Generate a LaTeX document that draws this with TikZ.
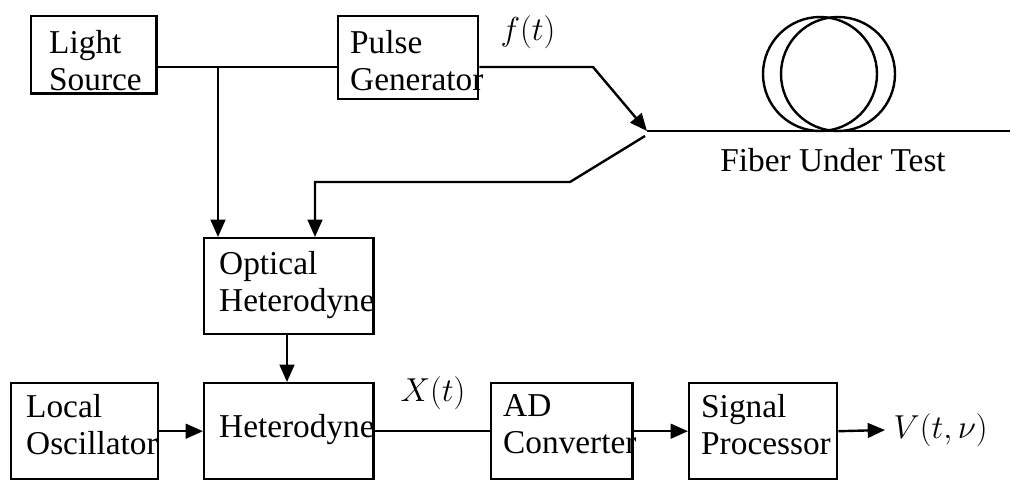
\documentclass[tikz,border=0pt]{standalone}
\usepackage{fontspec}
\setmainfont{Liberation Serif}
\usetikzlibrary{arrows.meta}
\begin{document}
\begin{tikzpicture}[x=0.75pt,y=-0.75pt,line width=1.8pt,
  box/.style={draw,align=left,font=\fontsize{25}{28}\selectfont},
  arr/.style={-{Triangle[length=13pt,width=11pt]}},
  lbl/.style={font=\fontsize{27}{30}\selectfont}]
\useasboundingbox (0,0) rectangle (1024,493);
\node[box,minimum width=94pt,minimum height=58pt,anchor=north west,inner sep=12pt] (ls) at (30,15) {};
\node[anchor=north west,box,draw=none,inner sep=0pt] at (48,29) {Light\\Source};
\node[box,minimum width=105pt,minimum height=62pt,anchor=north west] (pg) at (337,15) {};
\node[anchor=north west,box,draw=none,inner sep=0pt] at (349,29) {Pulse\\Generator};
\node[box,minimum width=127pt,minimum height=72pt,anchor=north west] (oh) at (203,237) {};
\node[anchor=north west,box,draw=none,inner sep=0pt] at (218,250) {Optical\\Heterodyne};
\node[box,minimum width=127pt,minimum height=72pt,anchor=north west] (het) at (203,382) {};
\node[anchor=west,box,draw=none,inner sep=0pt] at (218,430) {Heterodyne};
\node[box,minimum width=110pt,minimum height=72pt,anchor=north west] (lo) at (10,382) {};
\node[anchor=north west,box,draw=none,inner sep=0pt] at (25,393) {Local\\Oscillator};
\node[box,minimum width=106pt,minimum height=72pt,anchor=north west] (ad) at (490,382) {};
\node[anchor=north west,box,draw=none,inner sep=0pt] at (502,393) {AD\\Converter};
\node[box,minimum width=111pt,minimum height=72pt,anchor=north west] (sp) at (688,382) {};
\node[anchor=north west,box,draw=none,inner sep=0pt] at (700,393) {Signal\\Processor};
\coordinate (j) at (218,67);
\coordinate (b1) at (593,67);
\coordinate (fin) at (647,131);
\coordinate (fend) at (1010,131);
\coordinate (r1) at (570,182);
\coordinate (r2) at (315,182);
\coordinate (vout) at (885,430);
\draw (ls.east|-j) -- (pg.west|-j);
\draw[arr] (j) -- (218,237);
\draw[arr] (pg.east|-j) -- (b1) -- (fin);
\draw (fin) -- (fend);
\draw[arr] (645,136) -- (r1) -- (r2) -- (315,237);
\draw (820,74) circle (57);
\draw (838,74) circle (57);
\draw[arr] (287,333) -- (287,382);
\draw[arr] (lo.east|-het) -- (het.west);
\draw (het.east) -- (ad.west);
\draw[arr] (ad.east) -- (sp.west);
\draw[arr] (sp.east) -- (vout);
\node[lbl] (ft) at (528,32) {$f(t)$};
\node[box,draw=none] (fut) at (833,160) {Fiber Under Test};
\node[lbl] (xt) at (433,393) {$X(t)$};
\node[lbl,anchor=west] (vt) at (888,430) {$V(t,\nu)$};
\end{tikzpicture}
\end{document}
